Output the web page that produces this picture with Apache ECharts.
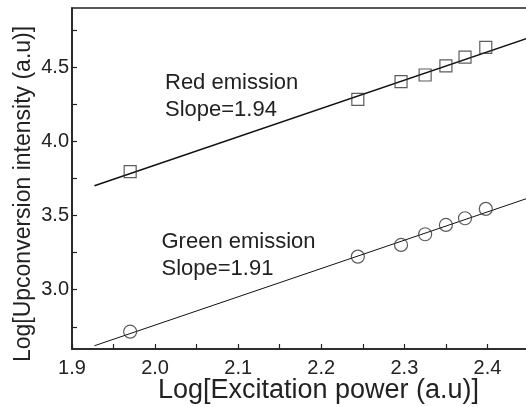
<!DOCTYPE html>
<html>
<head>
<meta charset="utf-8">
<script src="https://cdn.jsdelivr.net/npm/echarts@6/dist/echarts.min.js"></script>
<style>
html,body{margin:0;padding:0;background:#fff;}
#chart{width:526px;height:407px;}
</style>
</head>
<body>
<div id="chart"></div>
<script>
// Data
var powerX = [1.970, 2.244, 2.296, 2.325, 2.350, 2.373, 2.398];
var redY   = [3.796, 4.284, 4.403, 4.448, 4.509, 4.568, 4.635];
var greenY = [2.717, 3.223, 3.302, 3.374, 3.437, 3.482, 3.545];
var redFitX = [1.927, 2.45];
var redFitY = [3.701, 4.699];
var greenFitX = [1.927, 2.45];
var greenFitY = [2.622, 3.620];
var xTickLabels = [1.9, 2.0, 2.1, 2.2, 2.3, 2.4];
var yTickLabels = [3.0, 3.5, 4.0, 4.5];
var yTicks = [2.75, 3.0, 3.25, 3.5, 3.75, 4.0, 4.25, 4.5, 4.75];
var redText = ['Red emission', 'Slope=1.94'];
var greenText = ['Green emission', 'Slope=1.91'];

function pairs(xs, ys){ return xs.map(function(x,i){ return [x, ys[i]]; }); }

var FONT = '"Liberation Sans", Arial, Helvetica, sans-serif';
var INK = '#222';

var chart = echarts.init(document.getElementById('chart'), null, {renderer:'canvas'});
chart.setOption({
  animation: false,
  backgroundColor: '#fff',
  grid: {left: 72, top: 8, bottom: 58, right: -3, outerBoundsMode: 'none', containLabel: false,
    show: true, borderColor: INK, borderWidth: 1.6, backgroundColor: 'transparent'},
  xAxis: {
    type: 'value', min: 1.9, max: 2.45, interval: 0.05,
    name: 'Log[Excitation power (a.u)]', nameLocation: 'middle', nameGap: 28, nameMoveOverlap: false,
    nameTextStyle: {fontFamily: FONT, fontSize: 27, color: INK, padding: [0,0,0,36]},
    axisLine: {show: true, lineStyle: {color: INK, width: 1.6}},
    axisTick: {show: true, inside: true, length: 5, lineStyle: {color: INK, width: 1.2}},
    axisLabel: {
      fontFamily: FONT, fontSize: 20, color: INK, margin: 9,
      customValues: xTickLabels,
      formatter: function(v){ return v.toFixed(1); }
    },
    splitLine: {show: false}
  },
  yAxis: {
    type: 'value', min: 2.6, max: 4.9,
    name: 'Log[Upconversion intensity (a.u)]', nameLocation: 'middle', nameGap: 37, nameMoveOverlap: false,
    nameTextStyle: {fontFamily: FONT, fontSize: 23, color: INK, padding: [0,31,0,0]},
    axisLine: {show: true, lineStyle: {color: INK, width: 1.6}},
    axisTick: {show: true, inside: true, length: 5, customValues: yTicks, lineStyle: {color: INK, width: 1.2}},
    axisLabel: {
      fontFamily: FONT, fontSize: 20, color: INK, margin: 3,
      customValues: yTickLabels,
      formatter: function(v){ return v.toFixed(1); }
    },
    splitLine: {show: false}
  },
  series: [
    {type: 'line', data: pairs(redFitX, redFitY), showSymbol: false, lineStyle: {color: '#111', width: 1.5}, z: 2},
    {type: 'line', data: pairs(greenFitX, greenFitY), showSymbol: false, lineStyle: {color: '#111', width: 1}, z: 2},
    {type: 'scatter', data: pairs(powerX, redY), symbol: 'rect', symbolSize: 12,
      itemStyle: {color: 'rgba(0,0,0,0)', borderColor: '#333', borderWidth: 1.2}, z: 3},
    {type: 'scatter', data: pairs(powerX, greenY), symbol: 'circle', symbolSize: 13,
      itemStyle: {color: 'rgba(0,0,0,0)', borderColor: '#333', borderWidth: 1.2}, z: 3}
  ],
  graphic: [
    {type: 'text', left: 165, top: 69, style: {text: redText.join('\n'), font: '22px ' + FONT, fill: INK, lineHeight: 27.4}},
    {type: 'text', left: 161.5, top: 228, style: {text: greenText.join('\n'), font: '22px ' + FONT, fill: INK, lineHeight: 27}}
  ]
});
</script>
</body>
</html>
